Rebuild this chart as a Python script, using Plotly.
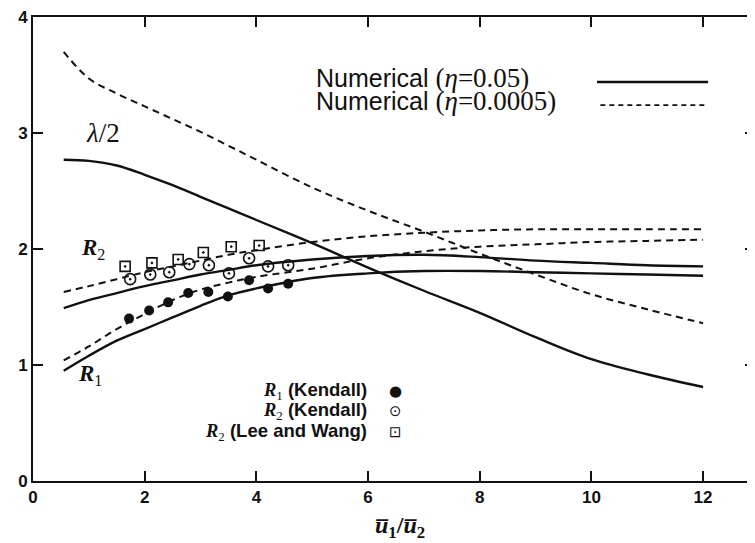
import plotly.graph_objects as go

# ---- data ----
x_curve = [0.55, 1, 1.5, 2, 2.5, 3, 3.5, 4, 5, 6, 7, 8, 9, 10, 11, 12]

lam_half_eta005 = [2.77, 2.76, 2.72, 2.64, 2.55, 2.45, 2.35, 2.25, 2.05, 1.84, 1.64, 1.45, 1.24, 1.05, 0.92, 0.81]
lam_half_eta00005 = [3.70, 3.47, 3.34, 3.23, 3.12, 3.01, 2.89, 2.77, 2.53, 2.33, 2.15, 1.96, 1.78, 1.61, 1.48, 1.36]
R2_eta005 = [1.49, 1.56, 1.62, 1.68, 1.73, 1.78, 1.82, 1.86, 1.91, 1.94, 1.95, 1.93, 1.90, 1.88, 1.86, 1.85]
R2_eta00005 = [1.63, 1.68, 1.74, 1.80, 1.85, 1.90, 1.95, 1.99, 2.06, 2.11, 2.14, 2.16, 2.17, 2.17, 2.17, 2.17]
R1_eta005 = [0.95, 1.08, 1.21, 1.31, 1.41, 1.51, 1.60, 1.66, 1.75, 1.79, 1.81, 1.81, 1.80, 1.79, 1.78, 1.77]
R1_eta00005 = [1.04, 1.16, 1.31, 1.44, 1.56, 1.65, 1.71, 1.76, 1.83, 1.92, 1.98, 2.02, 2.04, 2.06, 2.07, 2.08]

kendall_x = [1.72, 2.08, 2.42, 2.78, 3.14, 3.49, 3.87, 4.21, 4.57]
kendall_R1 = [1.40, 1.47, 1.54, 1.62, 1.63, 1.59, 1.73, 1.66, 1.70]
kendall_x2 = [1.74, 2.10, 2.44, 2.80, 3.15, 3.51, 3.87, 4.21, 4.57]
kendall_R2 = [1.74, 1.78, 1.80, 1.87, 1.86, 1.79, 1.92, 1.85, 1.86]
leewang_x = [1.65, 2.13, 2.60, 3.05, 3.55, 4.05]
leewang_R2 = [1.85, 1.88, 1.91, 1.97, 2.02, 2.03]

x_ticks = [0, 2, 4, 6, 8, 10, 12]
y_ticks = [0, 1, 2, 3, 4]

SANS = "Liberation Sans"
SERIF = "Liberation Serif"
BLACK = "#111111"

fig = go.Figure()

solid = dict(color=BLACK, width=2.4)
dashed = dict(color=BLACK, width=2, dash="7px,5px")

# the lambda/2 solid curve also carries the right-hand mirror axis (same range)
fig.add_trace(go.Scatter(x=x_curve, y=lam_half_eta005, mode="lines", line=solid, yaxis="y2",
                         line_shape="spline", showlegend=False, hoverinfo="skip"))
for ys in (R2_eta005, R1_eta005):
    fig.add_trace(go.Scatter(x=x_curve, y=ys, mode="lines", line=solid,
                             line_shape="spline", showlegend=False, hoverinfo="skip"))
for ys in (lam_half_eta00005, R2_eta00005, R1_eta00005):
    fig.add_trace(go.Scatter(x=x_curve, y=ys, mode="lines", line=dashed,
                             line_shape="spline", showlegend=False, hoverinfo="skip"))

fig.add_trace(go.Scatter(x=leewang_x, y=leewang_R2, mode="markers",
                         marker=dict(symbol="square-open-dot", size=10, color=BLACK,
                                     line=dict(width=1.6, color=BLACK)),
                         showlegend=False))
fig.add_trace(go.Scatter(x=kendall_x2, y=kendall_R2, mode="markers",
                         marker=dict(symbol="circle-open-dot", size=11, color=BLACK,
                                     line=dict(width=1.6, color=BLACK)),
                         showlegend=False))
fig.add_trace(go.Scatter(x=kendall_x, y=kendall_R1, mode="markers",
                         marker=dict(symbol="circle", size=10, color=BLACK),
                         showlegend=False))

# ---- labels ----
def ann(x, y, text, size, family=SERIF, xanchor="center", yanchor="middle", yref="y"):
    fig.add_annotation(x=x, y=y, xref="x", yref=yref, text=text, showarrow=False,
                       font=dict(family=family, size=size, color=BLACK),
                       xanchor=xanchor, yanchor=yanchor)

ann(1.25, 3.0, "<i>λ</i>/2", 27)
ann(1.08, 2.0, "<b><i>R</i></b><sub>2</sub>", 23)
ann(1.02, 0.91, "<b><i>R</i></b><sub>1</sub>", 23)

ser = f"<span style='font-family:{SERIF};font-size:27px'>"
ann(5.04, 3.47, f"Numerical {ser}(<i>η</i>=0.05)</span>", 25, family=SANS, xanchor="left")
ann(5.04, 3.28, f"Numerical {ser}(<i>η</i>=0.0005)</span>", 25, family=SANS, xanchor="left")
fig.add_shape(type="line", x0=10.10, x1=12.09, y0=3.44, y1=3.44, xref="x", yref="y",
              line=dict(color=BLACK, width=2.4))
fig.add_shape(type="line", x0=10.16, x1=12.09, y0=3.24, y1=3.24, xref="x", yref="y",
              line=dict(color=BLACK, width=1.6, dash="5px,4px"))

ser2 = f"<span style='font-family:{SERIF}'>"
ann(6.02, 0.78, f"{ser2}<b><i>R</i></b><sub>1</sub></span> <b>(Kendall)</b>", 18.5, family=SANS, xanchor="right")
ann(6.02, 0.60, f"{ser2}<b><i>R</i></b><sub>2</sub></span> <b>(Kendall)</b>", 18.5, family=SANS, xanchor="right")
ann(6.02, 0.42, f"{ser2}<b><i>R</i></b><sub>2</sub></span> <b>(Lee and Wang)</b>", 18.5, family=SANS, xanchor="right")
ann(6.50, 0.78, "●", 15, family="DejaVu Sans")
ann(6.50, 0.60, "⊙", 15, family="DejaVu Sans")
ann(6.50, 0.42, "⊡", 15, family="DejaVu Sans")

# axis title
ann(6.57, -0.099, "<b><i>u̅</i><sub>1</sub>/<i>u̅</i><sub>2</sub></b>", 24, yref="paper")

tickfont = dict(family=SANS, size=17, color=BLACK, weight="bold")

# the page body has an 8px default margin, so the figure is sized 8px smaller
fig.update_layout(
    width=747, height=535,
    margin=dict(l=25, r=0, t=7, b=62),
    paper_bgcolor="white", plot_bgcolor="white",
    showlegend=False,
    xaxis=dict(range=[0, 12.93], tickvals=x_ticks, ticks="inside", ticklen=10, tickwidth=2,
               tickcolor=BLACK, showline=True, linewidth=2, linecolor=BLACK, mirror="ticks",
               showgrid=False, zeroline=False, tickfont=tickfont),
    yaxis=dict(range=[0, 4], tickvals=y_ticks, ticks="inside", ticklen=10, tickwidth=2,
               tickcolor=BLACK, showline=True, linewidth=2, linecolor=BLACK, mirror=False,
               showgrid=False, zeroline=False, tickfont=tickfont,
               ticklabeloverflow="allow"),
    yaxis2=dict(range=[0, 4], overlaying="y", side="right", tickvals=[1, 2, 3],
                ticks="inside", ticklen=10, tickwidth=2, tickcolor=BLACK,
                showticklabels=False, showline=False, showgrid=False, zeroline=False),
)

fig.write_html("out.html")
